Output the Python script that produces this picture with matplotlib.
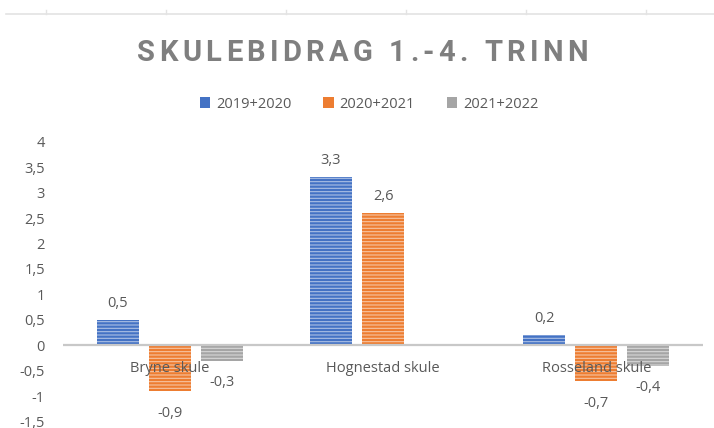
import numpy as np
import matplotlib
matplotlib.use("Agg")
import matplotlib.pyplot as plt
from matplotlib.patches import Patch
from matplotlib.lines import Line2D
from matplotlib.font_manager import FontProperties

categories = ["Bryne skule", "Hognestad skule", "Rosseland skule"]
series_names = ["2019+2020", "2020+2021", "2021+2022"]
v_2019_2020 = [0.5, 3.3, 0.2]
v_2020_2021 = [-0.9, 2.6, -0.7]
v_2021_2022 = [-0.3, np.nan, -0.4]
yticks = [-1.5, -1, -0.5, 0, 0.5, 1, 1.5, 2, 2.5, 3, 3.5, 4]
title = "SKULEBIDRAG 1.-4. TRINN"

colors = ["#4472C4", "#ED7D31", "#A5A5A5"]
txt = "#595959"
plt.rcParams['font.family'] = ['Open Sans', 'DejaVu Sans']
plt.rcParams['hatch.linewidth'] = 0.8

W, H = 714, 428
fig = plt.figure(figsize=(W / 100, H / 100), dpi=100)
ax = fig.add_axes([63 / W, (H - 421.7) / H, 640 / W, (421.7 - 141.7) / H])
ax.set_xlim(-0.5, 2.5)
ax.set_ylim(-1.5, 4)

x = np.arange(len(categories))
width = 0.197
step = 0.244
fs = 10.5
allv = [v_2019_2020, v_2020_2021, v_2021_2022]
for i, (vals, c) in enumerate(zip(allv, colors)):
    xs = x + (i - 1) * step
    v = np.array(vals, dtype=float)
    ax.bar(xs, v, width, color=c, edgecolor='none', zorder=1)
    ax.bar(xs, v, width, facecolor='none', edgecolor=(1, 1, 1, 0.55), hatch='-----', lw=0, zorder=1.2)
    for xi, vi in zip(xs, v):
        if np.isnan(vi):
            continue
        lab = f"{vi:.1f}".replace('.', ',')
        off = 12 if vi >= 0 else -16
        ax.annotate(lab, (xi, vi), xytext=(0, off), textcoords='offset points',
                    ha='center', va='center', fontsize=fs, color=txt, zorder=4)

ax.axhline(0, color='#c8c8c8', lw=1.6, zorder=2)
for xi, cat in zip(x, categories):
    ax.annotate(cat, (xi, 0), xytext=(0, -17), textcoords='offset points',
                ha='center', va='center', fontsize=fs, color=txt, zorder=5)

ax.set_yticks(yticks)
ax.set_yticklabels([(f"{t:g}").replace('.', ',') for t in yticks])
ax.tick_params(axis='y', length=0, labelsize=fs, labelcolor=txt, pad=13)
ax.set_xticks([])
for s in ax.spines.values():
    s.set_visible(False)
ax.patch.set_alpha(0)

# title with letter spacing, drawn character by character
renderer = fig.canvas.get_renderer()
tfp = FontProperties(family=['Roboto', 'DejaVu Sans'], weight='bold', size=21)
target_left, target_right = 137, 588
widths = []
for ch in title:
    w, h, d = renderer.get_text_width_height_descent(ch if ch != ' ' else 'I', tfp, ismath=False)
    if ch == ' ':
        w = w * 0.9
    widths.append(w)
total = sum(widths)
gap = (target_right - target_left - total) / (len(title) - 1)
xpos = target_left
for ch, w in zip(title, widths):
    if ch != ' ':
        fig.text(xpos / W, 1 - 61 / H, ch, ha='left', va='baseline', fontproperties=tfp,
                 color='#7F7F7F')
    xpos += w + gap

# legend
handles = [Patch(facecolor=c, edgecolor='none') for c in colors]
fig.legend(handles, series_names, loc='center', bbox_to_anchor=(369 / W, 1 - 104 / H),
           ncol=3, frameon=False, fontsize=fs, labelcolor=txt,
           handlelength=0.7, handleheight=0.7, handletextpad=0.4, columnspacing=2.2)

# spreadsheet gridline at top
fig.add_artist(Line2D([6 / W, 1], [1 - 13.5 / H] * 2, color='#e3e3e3', lw=1.2))
for tx in [46, 166, 286, 406, 526, 646]:
    fig.add_artist(Line2D([tx / W] * 2, [1 - 13.5 / H, 1 - 10 / H], color='#e3e3e3', lw=1))

fig.savefig("out.png", dpi=100)
